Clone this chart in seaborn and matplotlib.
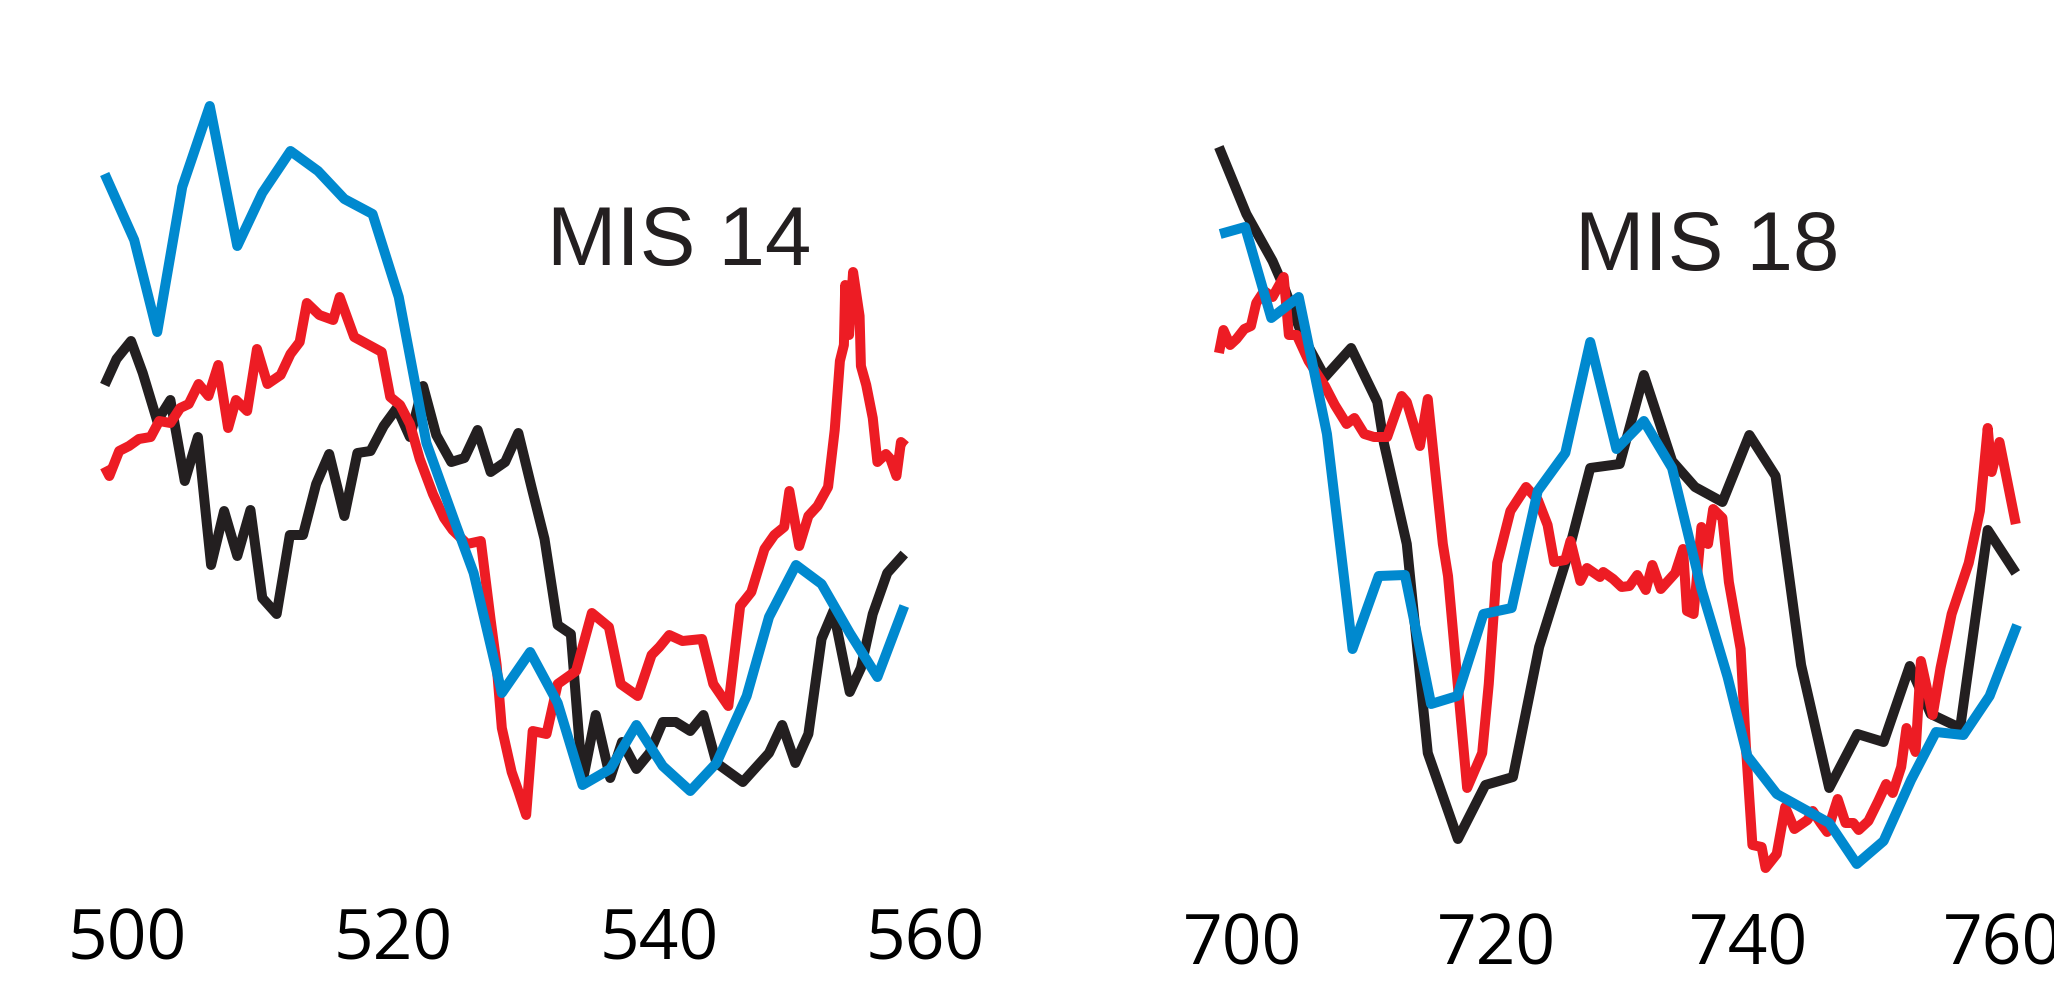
import numpy as np
import pandas as pd
import matplotlib
matplotlib.use("Agg")
import matplotlib.pyplot as plt
import seaborn as sns

# ---- MIS 14 window (age, ka) ----
t14_black = [498.32, 499.21, 500.30, 501.18, 502.27, 503.26, 504.34, 505.33, 506.32, 507.30,
             508.29, 509.28, 510.17, 511.25, 512.24, 513.23, 514.22, 515.20, 516.34, 517.32,
             518.31, 519.30, 520.29, 521.27, 522.26, 523.25, 524.38, 525.37, 526.36, 527.34,
             528.43, 529.42, 530.41, 531.39, 532.38, 533.37, 534.25, 535.24, 536.33, 537.22,
             538.30, 539.29, 540.28, 541.26, 542.35, 543.34, 544.32, 546.30, 548.27, 549.26,
             550.25, 551.23, 552.22, 553.11, 554.34, 555.18, 556.07, 557.16, 558.44]
v14_black = [6.07, 6.33, 6.51, 6.19, 5.71, 5.92, 5.11, 5.55, 4.27, 4.81,
             4.36, 4.82, 3.94, 3.78, 4.57, 4.57, 5.08, 5.38, 4.76, 5.39,
             5.41, 5.66, 5.84, 5.55, 6.06, 5.57, 5.30, 5.34, 5.62, 5.20,
             5.30, 5.59, 5.05, 4.53, 3.67, 3.58, 2.10, 2.77, 2.14, 2.50,
             2.23, 2.39, 2.70, 2.70, 2.61, 2.77, 2.29, 2.10, 2.39, 2.67,
             2.29, 2.58, 3.53, 3.81, 3.00, 3.24, 3.78, 4.19, 4.38]

t14_red = [498.32, 498.67, 499.41, 500.15, 500.89, 501.78, 502.42, 503.26, 504.00, 504.64,
           505.38, 506.12, 506.86, 507.60, 508.19, 509.03, 509.77, 510.56, 511.55, 512.29,
           512.98, 513.52, 514.46, 515.50, 515.99, 517.08, 519.15, 519.79, 520.53, 521.27,
           522.01, 523.00, 523.84, 524.48, 525.57, 526.60, 527.34, 527.79, 528.18, 528.92,
           529.42, 530.01, 530.50, 531.54, 532.38, 533.76, 534.95, 536.23, 537.12, 538.40,
           539.44, 540.03, 540.77, 541.76, 543.24, 544.08, 545.21, 546.10, 546.94, 547.93,
           548.67, 549.41, 549.80, 550.54, 551.23, 551.92, 552.71, 553.21, 553.60, 553.90,
           554.00, 554.29, 554.59, 555.08, 555.18, 555.58, 556.07, 556.42, 557.06, 557.40,
           557.85, 558.19, 558.54]
v14_red = [5.25, 5.16, 5.41, 5.46, 5.53, 5.55, 5.71, 5.69, 5.84, 5.88,
           6.08, 5.96, 6.27, 5.64, 5.92, 5.81, 6.43, 6.08, 6.17, 6.38,
           6.50, 6.89, 6.77, 6.72, 6.95, 6.55, 6.40, 5.95, 5.87, 5.68,
           5.33, 4.98, 4.74, 4.62, 4.48, 4.51, 3.72, 3.27, 2.64, 2.20,
           2.01, 1.77, 2.61, 2.58, 3.08, 3.21, 3.79, 3.65, 3.08, 2.96,
           3.37, 3.45, 3.57, 3.51, 3.53, 3.08, 2.86, 3.86, 4.00, 4.43,
           4.57, 4.65, 5.01, 4.46, 4.76, 4.86, 5.05, 5.62, 6.31, 6.47,
           7.07, 6.57, 7.20, 6.76, 6.26, 6.07, 5.74, 5.30, 5.38, 5.33,
           5.16, 5.50, 5.46]

t14_blue = [498.32, 500.54, 502.27, 504.15, 506.22, 508.29, 510.17, 512.29, 514.36, 516.34,
            518.46, 520.43, 522.51, 524.73, 526.06, 528.18, 530.31, 532.38, 534.25, 536.33,
            538.30, 540.28, 542.35, 544.32, 546.59, 548.27, 550.30, 552.22, 554.34, 556.42,
            558.44]
v14_blue = [8.18, 7.52, 6.60, 8.05, 8.86, 7.46, 7.99, 8.41, 8.21, 7.93,
            7.78, 6.95, 5.49, 4.67, 4.19, 2.99, 3.40, 2.89, 2.07, 2.23,
            2.67, 2.26, 2.01, 2.29, 2.96, 3.75, 4.27, 4.08, 3.59, 3.15,
            3.86]

# ---- MIS 18 window (age, ka) ----
t18_black = [698.10, 700.27, 702.34, 703.37, 704.67, 706.48, 708.55, 710.62, 711.14, 712.95,
             714.61, 716.99, 719.16, 721.34, 723.41, 725.63, 727.45, 729.78, 731.69, 733.92,
             735.73, 737.90, 740.03, 742.10, 744.12, 746.34, 748.57, 750.64, 752.71, 754.37,
             756.69, 758.87, 761.09]
v18_black = [8.45, 7.78, 7.31, 7.01, 6.57, 6.15, 6.44, 5.90, 5.49, 4.48,
             2.39, 1.53, 2.07, 2.15, 3.45, 4.35, 5.24, 5.28, 6.17, 5.31,
             5.05, 4.90, 5.57, 5.16, 3.27, 2.04, 2.58, 2.50, 3.26, 2.78,
             2.64, 4.62, 4.19]

t18_red = [698.10, 698.46, 698.98, 699.49, 700.11, 700.63, 701.05, 701.67, 702.34, 703.22,
           703.63, 704.25, 705.19, 706.48, 707.26, 708.19, 708.81, 709.59, 710.36, 711.40,
           712.54, 712.95, 713.99, 714.61, 715.28, 715.80, 716.21, 716.84, 717.72, 718.91,
           719.43, 720.10, 721.14, 722.38, 723.31, 724.08, 724.60, 725.48, 725.89, 726.67,
           727.19, 728.22, 728.48, 729.26, 729.93, 730.55, 731.17, 731.84, 732.36, 733.03,
           734.17, 734.79, 735.10, 735.62, 736.24, 736.76, 737.17, 737.90, 738.41, 739.34,
           739.76, 740.27, 741.00, 741.31, 742.19, 742.86, 743.59, 744.62, 745.04, 745.66,
           746.18, 747.01, 747.63, 748.25, 748.67, 749.44, 750.22, 750.84, 751.36, 752.03,
           752.45, 753.17, 753.59, 754.52, 755.14, 756.02, 757.37, 758.25, 758.87, 759.18,
           759.80, 761.09]
v18_red = [6.39, 6.62, 6.47, 6.53, 6.63, 6.66, 6.89, 7.01, 6.95, 7.15,
           6.57, 6.57, 6.31, 6.06, 5.87, 5.68, 5.74, 5.58, 5.55, 5.55,
           5.96, 5.90, 5.46, 5.93, 5.11, 4.48, 4.16, 3.27, 2.04, 2.39,
           3.08, 4.29, 4.81, 5.05, 4.92, 4.67, 4.30, 4.32, 4.51, 4.11,
           4.24, 4.15, 4.20, 4.13, 4.05, 4.06, 4.17, 4.02, 4.27, 4.03,
           4.19, 4.43, 3.81, 3.78, 4.65, 4.48, 4.83, 4.74, 4.10, 3.43,
           2.45, 1.47, 1.45, 1.24, 1.38, 1.85, 1.63, 1.72, 1.81, 1.69,
           1.60, 1.93, 1.69, 1.69, 1.62, 1.71, 1.91, 2.08, 1.99, 2.25,
           2.64, 2.40, 3.31, 2.77, 3.24, 3.78, 4.29, 4.81, 5.64, 5.20,
           5.50, 4.68]

t18_blue = [698.20, 700.17, 702.24, 704.41, 706.64, 708.66, 710.73, 712.80, 714.87, 716.94,
            719.01, 721.24, 723.30, 725.48, 727.45, 729.52, 731.69, 733.92, 736.24, 738.31,
            739.87, 742.20, 746.34, 748.52, 750.64, 752.81, 754.78, 756.95, 759.02, 761.19]
v18_blue = [7.58, 7.65, 6.74, 6.95, 5.58, 3.43, 4.16, 4.17, 2.88, 2.96,
            3.78, 3.84, 5.01, 5.39, 6.50, 5.43, 5.71, 5.24, 4.03, 3.15,
            2.36, 1.98, 1.69, 1.28, 1.51, 2.12, 2.60, 2.57, 2.96, 3.67]

ticks14 = [500, 520, 540, 560]
ticks18 = [700, 720, 740, 760]

BLACK = "#231f20"
RED = "#ed1c24"
BLUE = "#0089cf"

sns.set_style("white")
plt.rcParams["font.family"] = ["Open Sans", "DejaVu Sans"]

fig = plt.figure(figsize=(20.54, 9.92), dpi=100)
ax1 = fig.add_axes([60 / 2054, 112 / 992, 900 / 2054, 820 / 992])
ax2 = fig.add_axes([1100 / 2054, 112 / 992, 954 / 2054, 820 / 992])


def draw(ax, series, xlim, ticks, pad):
    for t, v, c in series:
        df = pd.DataFrame({"age": t, "val": v})
        sns.lineplot(data=df, x="age", y="val", ax=ax, color=c, lw=7.2,
                     estimator=None, sort=False, solid_capstyle="butt",
                     solid_joinstyle="round")
    ax.set_xlim(*xlim)
    ax.set_ylim(1.12, 9.32)
    ax.set_xticks(ticks)
    ax.set_yticks([])
    ax.set_xlabel("")
    ax.set_ylabel("")
    ax.tick_params(axis="x", length=0, pad=pad, labelsize=50, labelcolor="black")
    for s in ax.spines.values():
        s.set_visible(False)
    ax.patch.set_alpha(0)


draw(ax1, [(t14_black, v14_black, BLACK), (t14_red, v14_red, RED), (t14_blue, v14_blue, BLUE)],
     (494.96, 562.63), ticks14, 19)
draw(ax2, [(t18_black, v18_black, BLACK), (t18_red, v18_red, RED), (t18_blue, v18_blue, BLUE)],
     (688.70, 764.11), ticks18, 23)

fig.text(547 / 2054, (992 - 265) / 992, "MIS 14", fontsize=60, color=BLACK,
         family="Liberation Sans", va="baseline", ha="left")
fig.text(1575 / 2054, (992 - 270) / 992, "MIS 18", fontsize=60, color=BLACK,
         family="Liberation Sans", va="baseline", ha="left")

fig.savefig("out.png", dpi=100, facecolor="white")
